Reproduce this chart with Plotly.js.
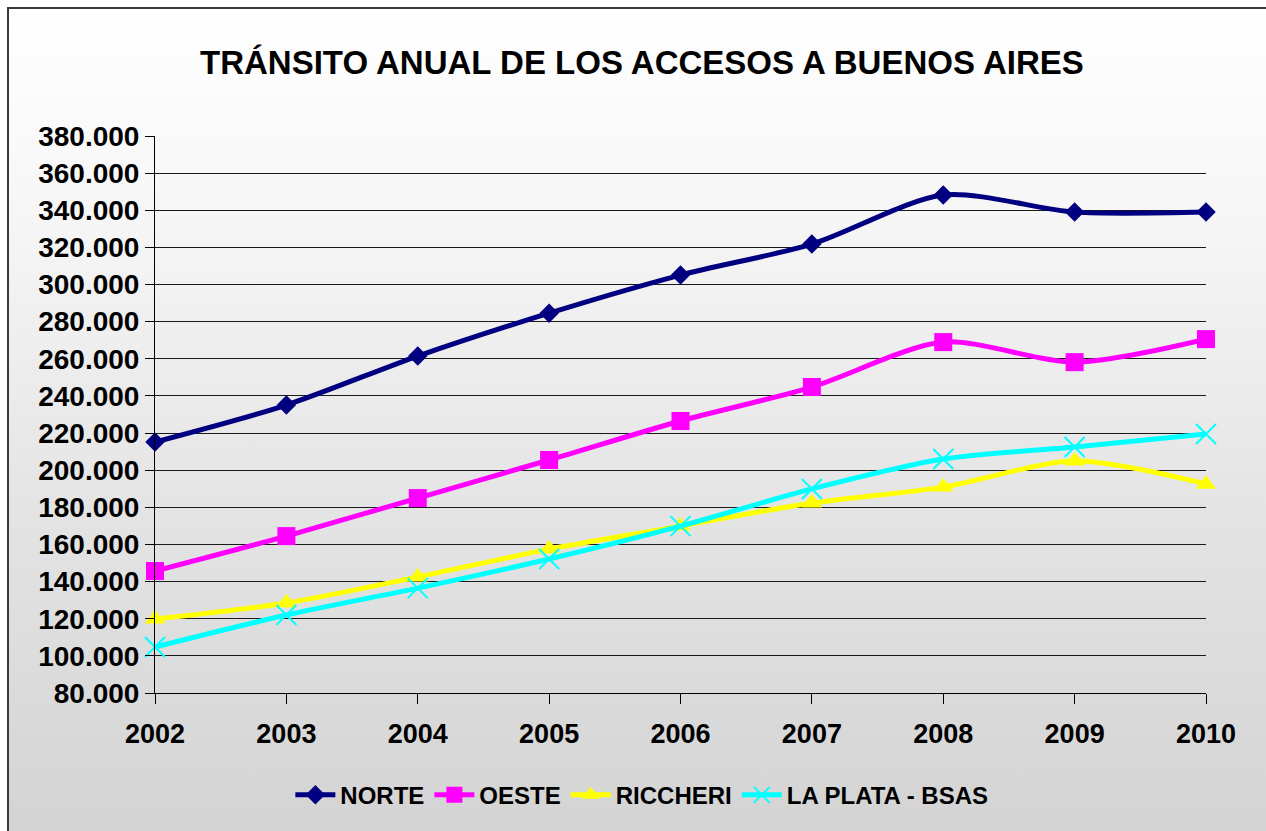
<!DOCTYPE html>
<html>
<head>
<meta charset="utf-8">
<script src="https://cdn.plot.ly/plotly-3.0.1.min.js"></script>
<style>
  html, body { margin: 0; padding: 0; width: 1266px; height: 831px; overflow: hidden; background: #ffffff; }
  #frame { position: absolute; left: 7px; top: 7px; width: 1270px; height: 835px;
           border: 2px solid #3a3a3a; box-sizing: border-box;
           background: linear-gradient(to bottom, #ffffff 0%, #f6f6f6 25%, #e4e4e4 60%, #d3d3d3 100%); }
  #chart { position: absolute; left: 0; top: 0; width: 1266px; height: 831px; }
</style>
</head>
<body>
<div id="frame"></div>
<div id="chart"></div>
<script>
const years = [2002, 2003, 2004, 2005, 2006, 2007, 2008, 2009, 2010];
const norte = [215200, 235100, 261500, 284600, 305100, 321800, 348200, 339000, 339000];
const oeste = [145700, 164500, 185000, 205500, 226500, 244800, 269000, 258200, 270600];
const riccheri = [119800, 128500, 142500, 157500, 169900, 182300, 190900, 204900, 192500];
const laPlata = [104800, 122000, 136500, 152200, 169900, 189900, 206000, 212500, 219500];
const seriesNames = ['NORTE', 'OESTE', 'RICCHERI', 'LA PLATA - BSAS'];
const titleText = 'TRÁNSITO ANUAL DE LOS ACCESOS A BUENOS AIRES';

const font = 'Arial, "Liberation Sans", sans-serif';

function tr(name, y, color, symbol, size, extra) {
  return Object.assign({
    x: years, y: y, name: name, type: 'scatter', mode: 'lines+markers',
    line: {color: color, width: 5, shape: 'spline', smoothing: 0.8},
    marker: {color: color, symbol: symbol, size: size},
    cliponaxis: false
  }, extra || {});
}

const data = [
  tr(seriesNames[0], norte, '#000080', 'diamond', 15),
  tr(seriesNames[1], oeste, '#ff00ff', 'square', 18),
  tr(seriesNames[2], riccheri, '#ffff00', 'triangle-up', 18),
  tr(seriesNames[3], laPlata, '#00ffff', 'x-thin-open', 20,
     {marker: {color: '#00ffff', symbol: 'x-thin-open', size: 20, line: {color: '#00ffff', width: 2}}})
];

const layout = {
  width: 1266, height: 831,
  paper_bgcolor: 'rgba(0,0,0,0)', plot_bgcolor: 'rgba(0,0,0,0)',
  margin: {l: 155, r: 60, t: 136, b: 138},
  separators: ',.',
  font: {family: font, color: '#000000'},
  title: {text: '<b>' + titleText + '</b>', font: {family: font, size: 33, color: '#000'},
          x: 0.507, xanchor: 'center', y: 0.925, yanchor: 'middle'},
  xaxis: {
    range: [2002, 2010], tickmode: 'array', tickvals: years, ticktext: years.map(String),
    showgrid: false, zeroline: false, showline: true, linecolor: '#000', linewidth: 1,
    ticks: 'outside', ticklen: 10, tickcolor: '#000', tickwidth: 1, automargin: false,
    tickfont: {family: font, size: 27, color: '#000', weight: 'bold'}, ticklabelstandoff: 7
  },
  yaxis: {
    range: [80000, 380000], tick0: 80000, dtick: 20000, tickformat: ',d',
    showgrid: true, gridcolor: '#1a1a1a', gridwidth: 1, zeroline: false,
    showline: true, linecolor: '#000', linewidth: 1, automargin: false,
    ticks: 'outside', ticklen: 9, tickcolor: '#000', tickwidth: 1,
    tickfont: {family: font, size: 28, color: '#000', weight: 'bold'}
  },
  showlegend: true,
  legend: {
    orientation: 'h', xref: 'container', yref: 'container',
    x: 0.507, xanchor: 'center', y: 0.043, yanchor: 'middle',
    font: {family: font, size: 24, color: '#000', weight: 'bold'},
    bgcolor: 'rgba(0,0,0,0)', itemwidth: 40, tracegroupgap: 0
  }
};

Plotly.newPlot('chart', data, layout, {displayModeBar: false, staticPlot: true});
</script>
</body>
</html>
